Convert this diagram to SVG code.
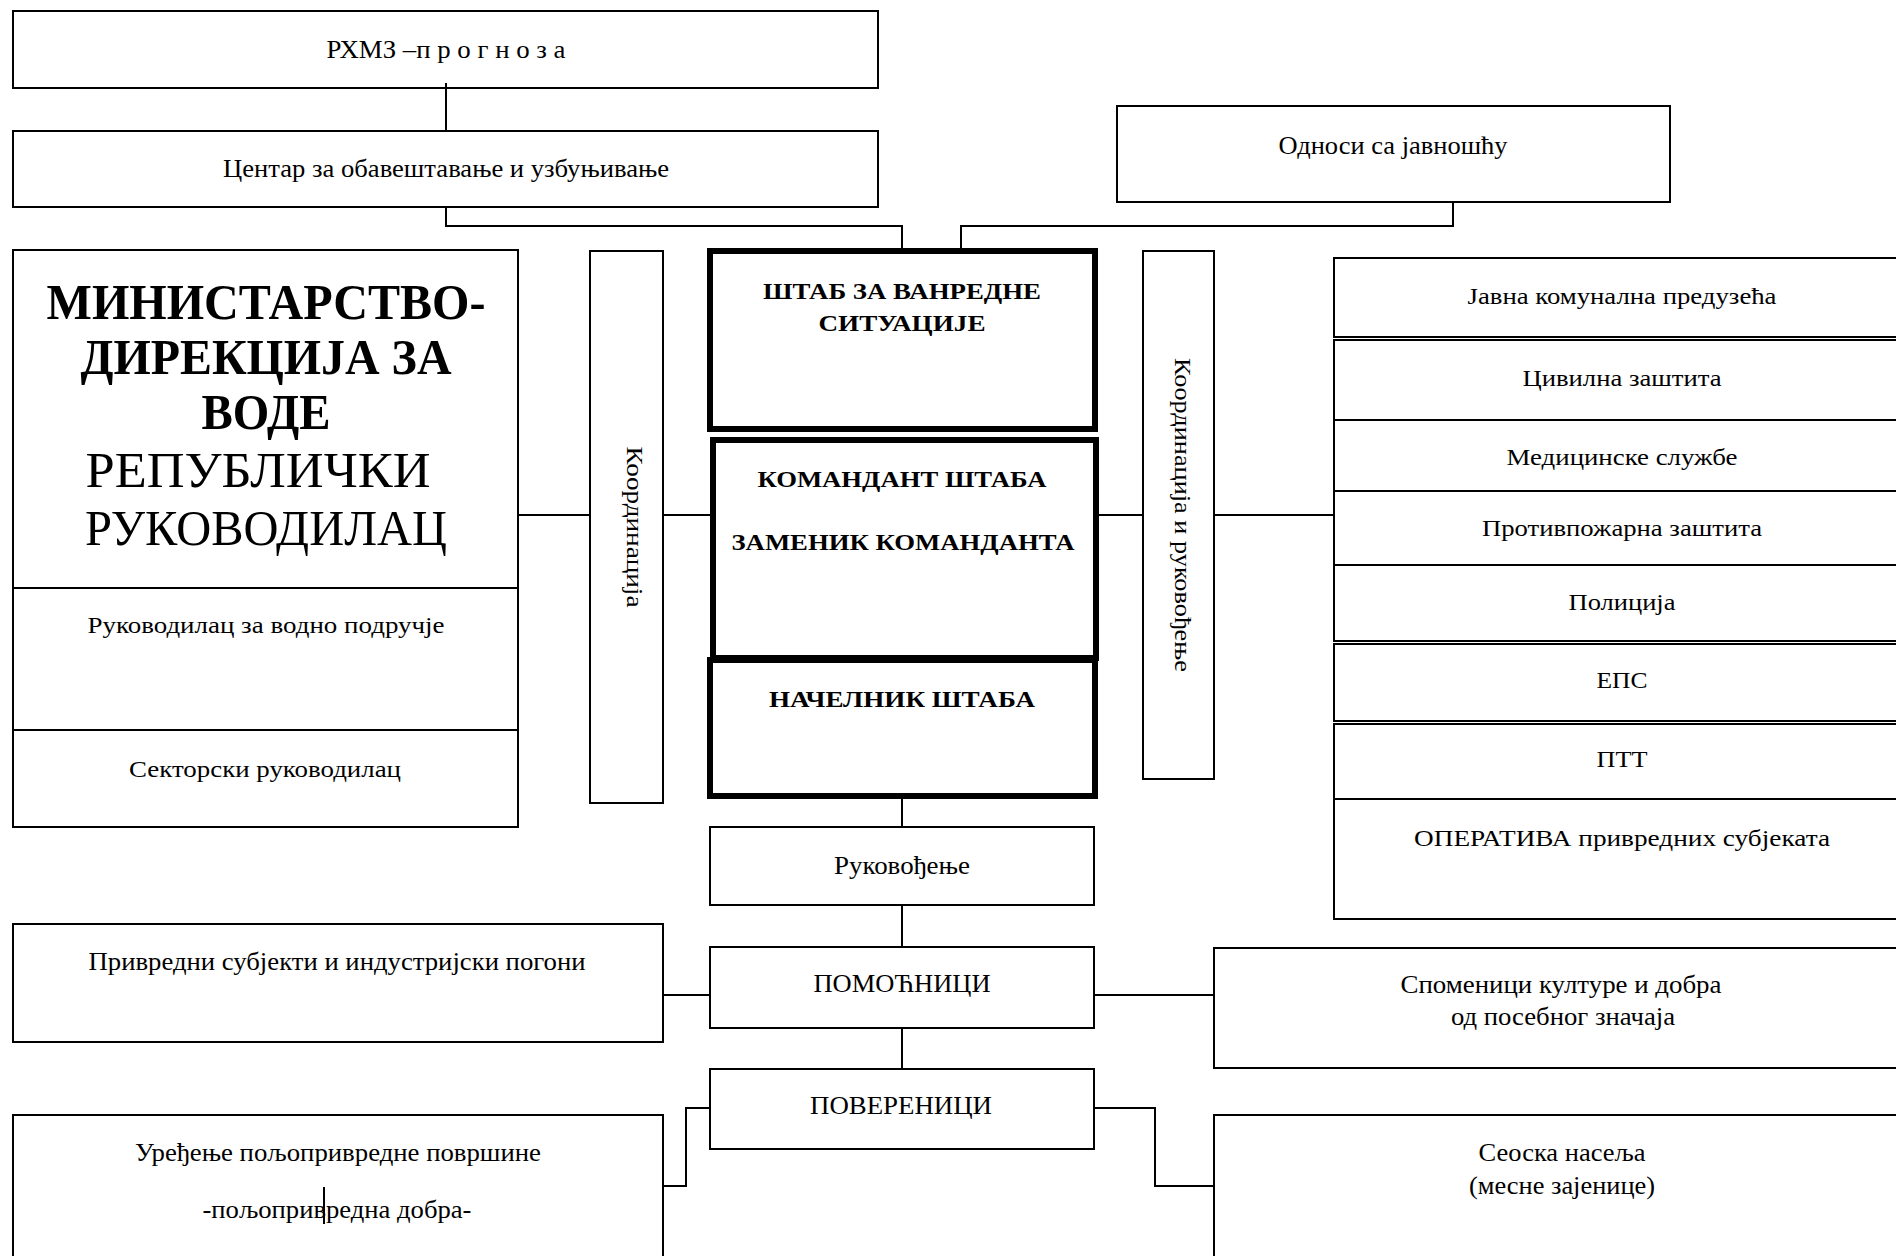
<svg xmlns="http://www.w3.org/2000/svg" width="1896" height="1256" viewBox="0 0 1896 1256">
<style>
.box{fill:#fff;stroke:#000;stroke-width:2}
.thick{fill:#fff;stroke:#000;stroke-width:6}
.t{font-family:"Liberation Serif","Times New Roman",serif;font-size:24px;text-anchor:middle;fill:#000}
.c{font-size:26px}
.b{font-weight:bold}
.big{font-size:50px}
.conn{fill:none;stroke:#000;stroke-width:2}
</style>
<rect x="0" y="0" width="1896" height="1256" fill="#fff"/>
<g id="rhmz">
<rect class="box" x="13" y="11" width="865" height="77"/>
<text class="t c" x="446" y="58" textLength="239" lengthAdjust="spacingAndGlyphs">РХМЗ –п р о г н о з а</text>
</g>
<g id="centar">
<rect class="box" x="13" y="131" width="865" height="76"/>
<text class="t c" x="446" y="177" textLength="446" lengthAdjust="spacingAndGlyphs">Центар за обавештавање и узбуњивање</text>
</g>
<g id="odnosi">
<rect class="box" x="1117" y="106" width="553" height="96"/>
<text class="t c" x="1393" y="154" textLength="229" lengthAdjust="spacingAndGlyphs">Односи са јавношћу</text>
</g>
<g id="ministarstvo">
<rect class="box" x="13" y="250" width="505" height="338"/>
<rect class="box" x="13" y="588" width="505" height="142"/>
<rect class="box" x="13" y="730" width="505" height="97"/>
<text class="t b big" x="266" y="319" textLength="439" lengthAdjust="spacingAndGlyphs">МИНИСТАРСТВО-</text>
<text class="t b big" x="266" y="374" textLength="371" lengthAdjust="spacingAndGlyphs">ДИРЕКЦИЈА ЗА</text>
<text class="t b big" x="266" y="429" textLength="129" lengthAdjust="spacingAndGlyphs">ВОДЕ</text>
<text class="t big" x="258" y="487" textLength="345" lengthAdjust="spacingAndGlyphs">РЕПУБЛИЧКИ</text>
<text class="t big" x="266" y="545" textLength="362" lengthAdjust="spacingAndGlyphs">РУКОВОДИЛАЦ</text>
<text class="t" x="266" y="633" textLength="357" lengthAdjust="spacingAndGlyphs">Руководилац за водно подручје</text>
<text class="t" x="265" y="777" textLength="272" lengthAdjust="spacingAndGlyphs">Секторски руководилац</text>
</g>
<g id="koordinacija">
<rect class="box" x="590" y="251" width="73" height="552"/>
<text class="t" transform="translate(635,527) rotate(90)" y="8" textLength="161" lengthAdjust="spacingAndGlyphs">Координација</text>
</g>
<g id="shtab">
<rect class="thick" x="710" y="251" width="385" height="178"/>
<text class="t b" x="902" y="299" textLength="278" lengthAdjust="spacingAndGlyphs">ШТАБ ЗА ВАНРЕДНЕ</text>
<text class="t b" x="902" y="331" textLength="167" lengthAdjust="spacingAndGlyphs">СИТУАЦИЈЕ</text>
</g>
<g id="komandant">
<rect class="thick" x="713" y="440" width="383" height="218"/>
<text class="t b" x="902" y="487" textLength="289" lengthAdjust="spacingAndGlyphs">КОМАНДАНТ ШТАБА</text>
<text class="t b" x="903" y="550" textLength="343" lengthAdjust="spacingAndGlyphs">ЗАМЕНИК КОМАНДАНТА</text>
</g>
<g id="nachelnik">
<rect class="thick" x="710" y="660" width="385" height="136"/>
<text class="t b" x="902" y="707" textLength="266" lengthAdjust="spacingAndGlyphs">НАЧЕЛНИК ШТАБА</text>
</g>
<g id="rukovodjenje">
<rect class="box" x="710" y="827" width="384" height="78"/>
<text class="t c" x="902" y="874" textLength="136" lengthAdjust="spacingAndGlyphs">Руковођење</text>
</g>
<g id="pomocnici">
<rect class="box" x="710" y="947" width="384" height="81"/>
<text class="t c" x="902" y="992" textLength="177" lengthAdjust="spacingAndGlyphs">ПОМОЋНИЦИ</text>
</g>
<g id="povereninci">
<rect class="box" x="710" y="1069" width="384" height="80"/>
<text class="t c" x="901" y="1114" textLength="182" lengthAdjust="spacingAndGlyphs">ПОВЕРЕНИЦИ</text>
</g>
<g id="koordinacija-rukovodjenje">
<rect class="box" x="1143" y="251" width="71" height="528"/>
<text class="t" transform="translate(1183,515) rotate(90)" y="8" textLength="314" lengthAdjust="spacingAndGlyphs">Координација и  руковођење</text>
</g>
<g id="sluzbe">
<rect class="box" x="1334" y="258" width="580" height="79"/>
<rect class="box" x="1334" y="340" width="580" height="80"/>
<rect class="box" x="1334" y="420" width="580" height="71"/>
<rect class="box" x="1334" y="491" width="580" height="74"/>
<rect class="box" x="1334" y="565" width="580" height="76"/>
<rect class="box" x="1334" y="644" width="580" height="77"/>
<rect class="box" x="1334" y="724" width="580" height="75"/>
<rect class="box" x="1334" y="799" width="580" height="120"/>
<text class="t" x="1622" y="304" textLength="309" lengthAdjust="spacingAndGlyphs">Јавна комунална предузећа</text>
<text class="t" x="1622" y="386" textLength="199" lengthAdjust="spacingAndGlyphs">Цивилна заштита</text>
<text class="t" x="1622" y="465" textLength="231" lengthAdjust="spacingAndGlyphs">Медицинске службе</text>
<text class="t" x="1622" y="536" textLength="280" lengthAdjust="spacingAndGlyphs">Противпожарна заштита</text>
<text class="t" x="1622" y="610" textLength="107" lengthAdjust="spacingAndGlyphs">Полиција</text>
<text class="t" x="1622" y="688" textLength="51" lengthAdjust="spacingAndGlyphs">ЕПС</text>
<text class="t" x="1622" y="767" textLength="51" lengthAdjust="spacingAndGlyphs">ПТТ</text>
<text class="t" x="1622" y="846" textLength="416" lengthAdjust="spacingAndGlyphs">ОПЕРАТИВА привредних субјеката</text>
</g>
<g id="privredni">
<rect class="box" x="13" y="924" width="650" height="118"/>
<text class="t c" x="337" y="970" textLength="497" lengthAdjust="spacingAndGlyphs">Привредни субјекти и индустријски погони</text>
</g>
<g id="spomenici">
<rect class="box" x="1214" y="948" width="700" height="120"/>
<text class="t c" x="1561" y="993" textLength="321" lengthAdjust="spacingAndGlyphs">Споменици културе и добра</text>
<text class="t c" x="1563" y="1025" textLength="224" lengthAdjust="spacingAndGlyphs">од посебног значаја</text>
</g>
<g id="uredjenje">
<rect class="box" x="13" y="1115" width="650" height="160"/>
<text class="t c" x="338" y="1161" textLength="406" lengthAdjust="spacingAndGlyphs">Уређење пољопривредне површине</text>
<text class="t c" x="337" y="1218" textLength="269" lengthAdjust="spacingAndGlyphs">-пољопривредна добра-</text>
<line x1="324" y1="1187" x2="324" y2="1224" stroke="#000" stroke-width="2"/>
</g>
<g id="seoska">
<rect class="box" x="1214" y="1115" width="700" height="160"/>
<text class="t c" x="1562" y="1161" textLength="167" lengthAdjust="spacingAndGlyphs">Сеоска насеља</text>
<text class="t c" x="1562" y="1194" textLength="186" lengthAdjust="spacingAndGlyphs">(месне зајенице)</text>
</g>
<g id="connectors">
<polyline class="conn" points="446,83 446,131"/>
<polyline class="conn" points="446,207 446,226 902,226 902,248"/>
<polyline class="conn" points="1453,202 1453,226 961,226 961,248"/>
<polyline class="conn" points="518,515 590,515"/>
<polyline class="conn" points="663,515 710,515"/>
<polyline class="conn" points="1099,515 1143,515"/>
<polyline class="conn" points="1214,515 1334,515"/>
<polyline class="conn" points="902,799 902,827"/>
<polyline class="conn" points="902,905 902,947"/>
<polyline class="conn" points="902,1028 902,1069"/>
<polyline class="conn" points="663,995 710,995"/>
<polyline class="conn" points="1094,995 1214,995"/>
<polyline class="conn" points="710,1108 686,1108 686,1186 663,1186"/>
<polyline class="conn" points="1094,1108 1155,1108 1155,1186 1214,1186"/>
</g>
</svg>
